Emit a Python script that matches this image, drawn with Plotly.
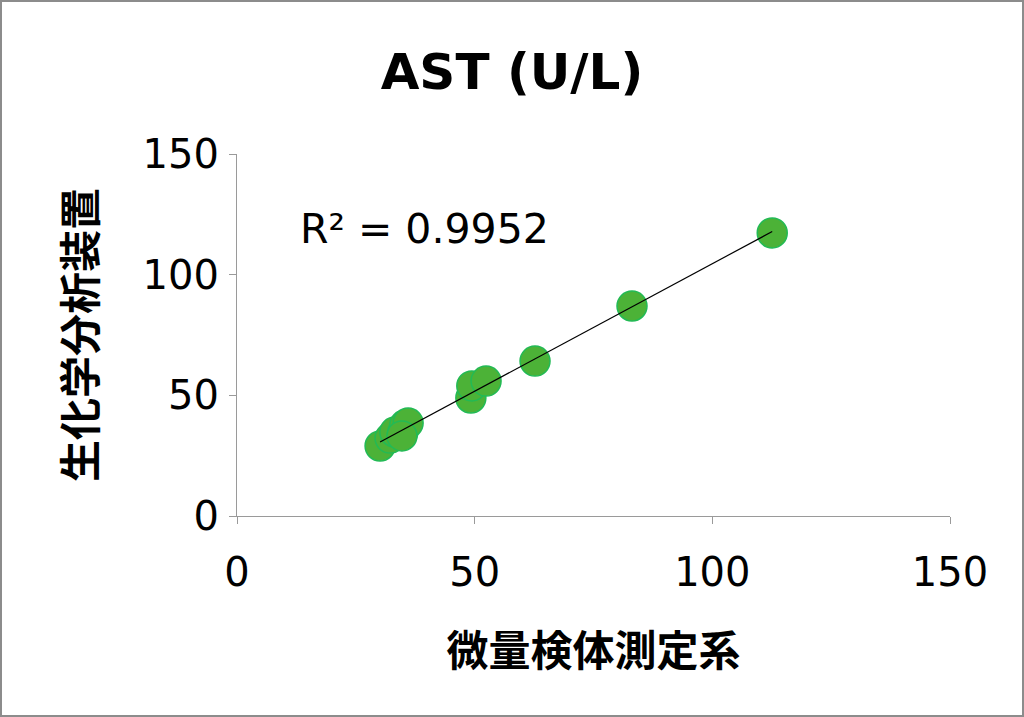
import numpy as np
import plotly.graph_objects as go

micro = [30.1, 32.2, 33.2, 34.9, 35.3, 36.0, 34.7, 49.2, 49.4, 52.4, 62.7, 83.1, 112.6]
analyzer = [29.0, 32.3, 34.8, 34.8, 37.7, 38.5, 33.2, 48.9, 53.9, 55.9, 64.2, 87.0, 117.3]
ticks = [0, 50, 100, 150]

x = np.array(micro)
y = np.array(analyzer)
slope, intercept = np.polyfit(x, y, 1)
xl = np.array([x.min(), x.max()])
yl = slope * xl + intercept

font = "DejaVu Sans, Verdana, Noto Sans CJK JP"

fig = go.Figure()
fig.add_trace(go.Scatter(x=micro, y=analyzer, mode="markers",
                         marker=dict(size=30, color="#4CB237",
                                     line=dict(color="#22BA55", width=1.5)),
                         showlegend=False))
fig.add_trace(go.Scatter(x=xl, y=yl, mode="lines",
                         line=dict(color="black", width=1.2), showlegend=False))

axis_common = dict(range=[0, 150], tickvals=ticks, showgrid=False, zeroline=False,
                   showline=True, linecolor="#9a9a9a", linewidth=1.3,
                   ticks="outside", ticklen=7, tickcolor="#9a9a9a",
                   tickfont=dict(size=40, color="black", family=font))

fig.update_layout(
    width=1024, height=717,
    margin=dict(l=237, r=74, t=154, b=201),
    paper_bgcolor="white", plot_bgcolor="white",
    title=dict(text="<b>AST (U/L)</b>", x=0.5, xanchor="center", y=0.9, yanchor="middle",
               font=dict(size=50, color="black", family=font)),
    xaxis=dict(**axis_common, ticklabelstandoff=14,
               title=dict(text="<b>微量検体測定系</b>", standoff=42,
                          font=dict(size=42, color="black", family=font))),
    yaxis=dict(**axis_common, ticklabelstandoff=2,
               title=dict(text="<b>生化学分析装置</b>", standoff=32,
                          font=dict(size=42, color="black", family=font))),
    shapes=[dict(type="rect", xref="paper", yref="paper",
                 x0=-236/713, x1=(713+73)/713, y0=-200/362, y1=(362+153)/362,
                 line=dict(color="#8c8c8c", width=2))],
    annotations=[dict(text=f"R² = {0.9952:.4f}", xref="x", yref="y",
                      x=12.8, y=119, xanchor="left", yanchor="middle", showarrow=False,
                      font=dict(size=41, color="black", family=font))],
)
fig.write_html("out.html", config={"displayModeBar": False},
               post_script="document.body.style.margin='0';")
